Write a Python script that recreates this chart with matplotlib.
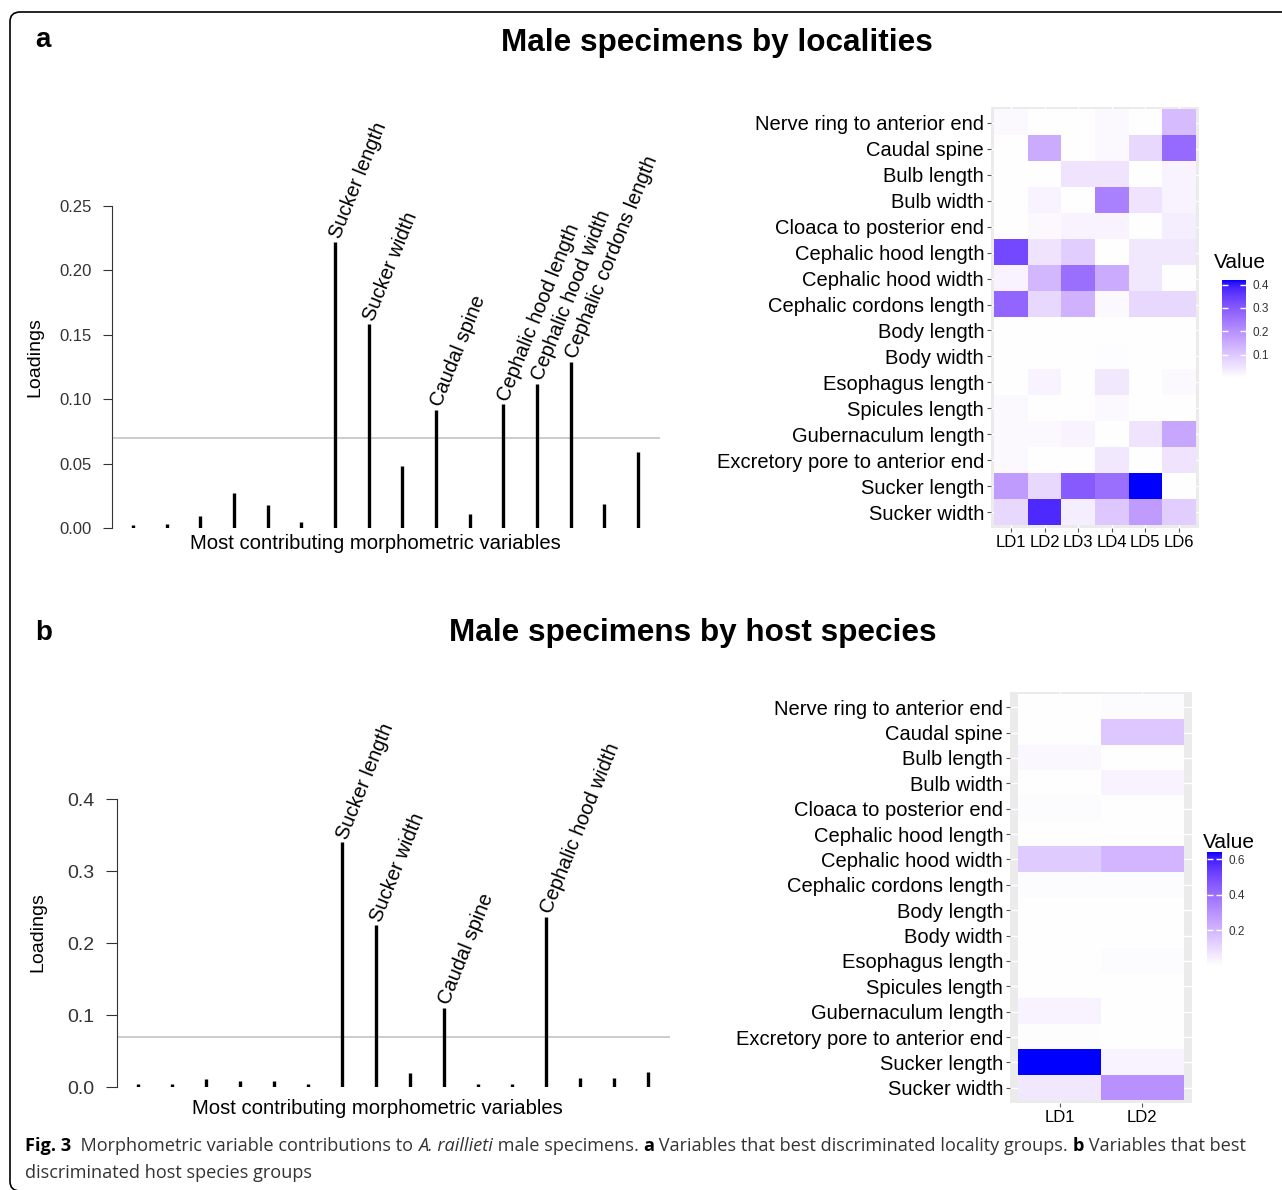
import numpy as np
import matplotlib
matplotlib.use("Agg")
from matplotlib import pyplot as plt
from matplotlib.colors import ListedColormap
from matplotlib.patches import FancyBboxPatch

plt.rcParams['font.family'] = ['Liberation Sans', 'DejaVu Sans']

# --------------- data ---------------
loadings_loc = [0.002, 0.003, 0.009, 0.027, 0.018, 0.005, 0.222, 0.158,
                0.048, 0.092, 0.011, 0.096, 0.112, 0.129, 0.019, 0.059]
stem_labels_loc = ['', '', '', '', '', '', 'Sucker length', 'Sucker width',
                   '', 'Caudal spine', '', 'Cephalic hood length',
                   'Cephalic hood width', 'Cephalic cordons length', '', '']

loadings_host = [0.004, 0.004, 0.011, 0.009, 0.009, 0.004, 0.340, 0.225,
                 0.019, 0.110, 0.004, 0.004, 0.236, 0.013, 0.013, 0.021]
stem_labels_host = ['', '', '', '', '', '', 'Sucker length', 'Sucker width',
                    '', 'Caudal spine', '', '', 'Cephalic hood width', '', '', '']

threshold = 0.07

variables = ['Nerve ring to anterior end', 'Caudal spine', 'Bulb length',
             'Bulb width', 'Cloaca to posterior end', 'Cephalic hood length',
             'Cephalic hood width', 'Cephalic cordons length', 'Body length',
             'Body width', 'Esophagus length', 'Spicules length',
             'Gubernaculum length', 'Excretory pore to anterior end',
             'Sucker length', 'Sucker width']

ld_loc = ['LD1', 'LD2', 'LD3', 'LD4', 'LD5', 'LD6']
heat_loc = [
    [0.01, 0.00, 0.00, 0.01, 0.00, 0.12],
    [0.00, 0.15, 0.00, 0.01, 0.07, 0.27],
    [0.00, 0.00, 0.05, 0.05, 0.00, 0.02],
    [0.00, 0.02, 0.00, 0.23, 0.05, 0.02],
    [0.00, 0.01, 0.02, 0.02, 0.00, 0.03],
    [0.33, 0.05, 0.09, 0.00, 0.04, 0.04],
    [0.02, 0.13, 0.26, 0.15, 0.04, 0.00],
    [0.28, 0.07, 0.14, 0.01, 0.07, 0.07],
    [0.00, 0.00, 0.00, 0.00, 0.00, 0.00],
    [0.00, 0.00, 0.00, 0.005, 0.00, 0.00],
    [0.00, 0.02, 0.00, 0.04, 0.00, 0.01],
    [0.01, 0.00, 0.00, 0.01, 0.00, 0.00],
    [0.01, 0.01, 0.02, 0.00, 0.05, 0.16],
    [0.01, 0.00, 0.00, 0.04, 0.00, 0.05],
    [0.18, 0.07, 0.30, 0.26, 0.42, 0.00],
    [0.07, 0.38, 0.03, 0.10, 0.18, 0.09],
]

ld_host = ['LD1', 'LD2']
heat_host = [
    [0.00, 0.01],
    [0.00, 0.15],
    [0.02, 0.00],
    [0.00, 0.03],
    [0.01, 0.00],
    [0.00, 0.00],
    [0.14, 0.20],
    [0.01, 0.01],
    [0.00, 0.00],
    [0.00, 0.00],
    [0.00, 0.01],
    [0.00, 0.00],
    [0.03, 0.00],
    [0.005, 0.00],
    [0.64, 0.03],
    [0.06, 0.30],
]

# --------------- white -> blue gradient in CIELAB (like ggplot) ---------------
def lab_to_rgb(lab):
    L, a, b = lab[:, 0], lab[:, 1], lab[:, 2]
    fy = (L + 16) / 116
    fx = fy + a / 500
    fz = fy - b / 200
    finv = lambda t: np.where(t > 6 / 29, t ** 3, 3 * (6 / 29) ** 2 * (t - 4 / 29))
    xyz = np.stack([0.95047 * finv(fx), finv(fy), 1.08883 * finv(fz)])
    M = np.array([[3.2406, -1.5372, -0.4986],
                  [-0.9689, 1.8758, 0.0415],
                  [0.0557, -0.2040, 1.0570]])
    lin = (M @ xyz).T
    lin = np.clip(lin, 0, 1)
    rgb = np.where(lin <= 0.0031308, 12.92 * lin, 1.055 * lin ** (1 / 2.4) - 0.055)
    return np.clip(rgb, 0, 1)

white_lab = np.array([100.0, 0.0, 0.0])
blue_lab = np.array([32.30, 79.19, -107.86])
t = np.linspace(0, 1, 256)[:, None]
cmap = ListedColormap(lab_to_rgb(white_lab + t * (blue_lab - white_lab)))

# --------------- figure ---------------
W, H = 1282, 1190
fig = plt.figure(figsize=(W / 100, H / 100), dpi=100)


def box(x0, y0, x1, y1):
    return [x0 / W, 1 - y1 / H, (x1 - x0) / W, (y1 - y0) / H]


def fx(x):
    return x / W


def fy(y):
    return 1 - y / H


frame = FancyBboxPatch((fx(10), fy(1191)), 1.2, fy(12) - fy(1191),
                       boxstyle="round,pad=0,rounding_size=0.008",
                       transform=fig.transFigure, fill=False, lw=1.2,
                       ec='black', clip_on=False)
fig.add_artist(frame)


def lollipop(rect, vals, labels, yticks, ylabels, xr, tick_size, tick_len):
    ax = fig.add_axes(rect)
    x = np.arange(1, len(vals) + 1)
    ax.vlines(x, 0, vals, color='black', lw=2.4)
    ax.axhline(threshold, color='#c8c8c8', lw=1.3, zorder=0)
    for xi, v, s in zip(x, vals, labels):
        if s:
            ax.annotate(s, (xi, v), xytext=(0, 3), textcoords='offset points',
                        rotation=68, rotation_mode='anchor', ha='left',
                        va='center', fontsize=14.5, annotation_clip=False)
    ax.set_xlim(*xr)
    ax.set_ylim(0, yticks[-1])
    for side in ['top', 'right', 'bottom']:
        ax.spines[side].set_visible(False)
    ax.spines['left'].set_color('#333333')
    ax.set_xticks([])
    ax.set_yticks(yticks)
    ax.set_yticklabels(ylabels)
    ax.tick_params(axis='y', length=tick_len, color='#333333', labelsize=tick_size,
                   labelcolor='#333333', pad=8)
    ax.patch.set_visible(False)
    return ax


def heatmap(rect, values, cols, cbar_rect, cbar_ticks, value_pos, cbar_font):
    ax = fig.add_axes(rect)
    vals = np.array(values)
    ax.set_facecolor('#ebebeb')
    im = ax.imshow(vals, cmap=cmap, vmin=0, vmax=vals.max(), aspect='auto',
                   interpolation='nearest', zorder=2)
    ax.set_xlim(-0.6, len(cols) - 0.4)
    ax.set_ylim(len(variables) - 0.4, -0.6)
    ax.set_xticks(range(len(cols)))
    ax.set_xticklabels(cols)
    ax.set_yticks(range(len(variables)))
    ax.set_yticklabels(variables)
    ax.grid(color='white', lw=1)
    ax.set_axisbelow(True)
    for sp in ax.spines.values():
        sp.set_visible(False)
    ax.tick_params(axis='y', length=3, color='#555555', labelsize=14.5, pad=2)
    ax.tick_params(axis='x', length=3, color='#555555', labelsize=12, pad=2)
    cax = fig.add_axes(cbar_rect)
    cb = fig.colorbar(im, cax=cax, ticks=cbar_ticks)
    cb.outline.set_visible(False)
    cax.yaxis.set_ticks_position('both')
    cax.tick_params(direction='in', color='white', length=4, width=1,
                    labelsize=cbar_font, labelcolor='#333333', pad=5,
                    labelleft=False, labelright=True)
    cax.set_yticklabels(['%.1f' % v for v in cbar_ticks])
    fig.text(fx(value_pos[0]), fy(value_pos[1]), 'Value', fontsize=15,
             ha='left', va='center')
    return ax


# --------------- panel a ---------------
fig.text(fx(35), fy(40), 'a', fontsize=20, fontweight='bold', va='center')
fig.text(fx(717), fy(43), 'Male specimens by localities', fontsize=22.7,
         fontweight='bold', ha='center', va='center')

lollipop(box(112, 206, 660, 528), loadings_loc, stem_labels_loc,
         [0, 0.05, 0.10, 0.15, 0.20, 0.25],
         ['0.00', '0.05', '0.10', '0.15', '0.20', '0.25'],
         (0.376, 16.65), 12, 6.5)
fig.text(fx(35), fy(357), 'Loadings', rotation=90, fontsize=14,
         ha='center', va='center')
fig.text(fx(375), fy(544), 'Most contributing morphometric variables',
         fontsize=14.6, ha='center', va='center')

heatmap(box(991, 107, 1199, 528), heat_loc, ld_loc,
        box(1222, 280, 1246, 378), [0.1, 0.2, 0.3, 0.4], (1214, 262), 8.5)

# --------------- panel b ---------------
fig.text(fx(35), fy(633), 'b', fontsize=20, fontweight='bold', va='center')
fig.text(fx(693), fy(633), 'Male specimens by host species', fontsize=22.7,
         fontweight='bold', ha='center', va='center')

lollipop(box(117, 799, 670, 1087), loadings_host, stem_labels_host,
         [0, 0.1, 0.2, 0.3, 0.4], ['0.0', '0.1', '0.2', '0.3', '0.4'],
         (0.382, 16.65), 14, 8)
fig.text(fx(38), fy(932), 'Loadings', rotation=90, fontsize=14,
         ha='center', va='center')
fig.text(fx(377), fy(1108), 'Most contributing morphometric variables',
         fontsize=14.6, ha='center', va='center')

heatmap(box(1010, 692, 1192, 1103), heat_host, ld_host,
        box(1207, 852, 1222, 966), [0.2, 0.4, 0.6], (1203, 842), 8.5)

# --------------- caption ---------------
cap = fig.add_axes([0, 0, 1, 1])
cap.axis('off')
cap.set_zorder(-1)

cap_font = ['Open Sans', 'DejaVu Sans']
cap_size = 13.05
cap_color = '#333333'


def rich_line(x, y, parts):
    txt = None
    for s, weight, style in parts:
        kw = dict(fontsize=cap_size, family=cap_font, fontweight=weight,
                  fontstyle=style, color='black' if weight == 'bold' else cap_color)
        if txt is None:
            txt = cap.text(fx(x), fy(y), s, ha='left', va='baseline',
                           transform=fig.transFigure, **kw)
        else:
            txt = cap.annotate(s, xy=(1, 0), xycoords=txt, ha='left',
                               va='bottom', **kw)


rich_line(25, 1151, [
    ('Fig. 3', 'bold', 'normal'),
    ('  Morphometric variable contributions to ', 'normal', 'normal'),
    ('A. raillieti', 'normal', 'italic'),
    (' male specimens. ', 'normal', 'normal'),
    ('a', 'bold', 'normal'),
    (' Variables that best discriminated locality groups. ', 'normal', 'normal'),
    ('b', 'bold', 'normal'),
    (' Variables that best', 'normal', 'normal'),
])
rich_line(25, 1178, [('discriminated host species groups', 'normal', 'normal')])

fig.savefig('out.png', dpi=100)
